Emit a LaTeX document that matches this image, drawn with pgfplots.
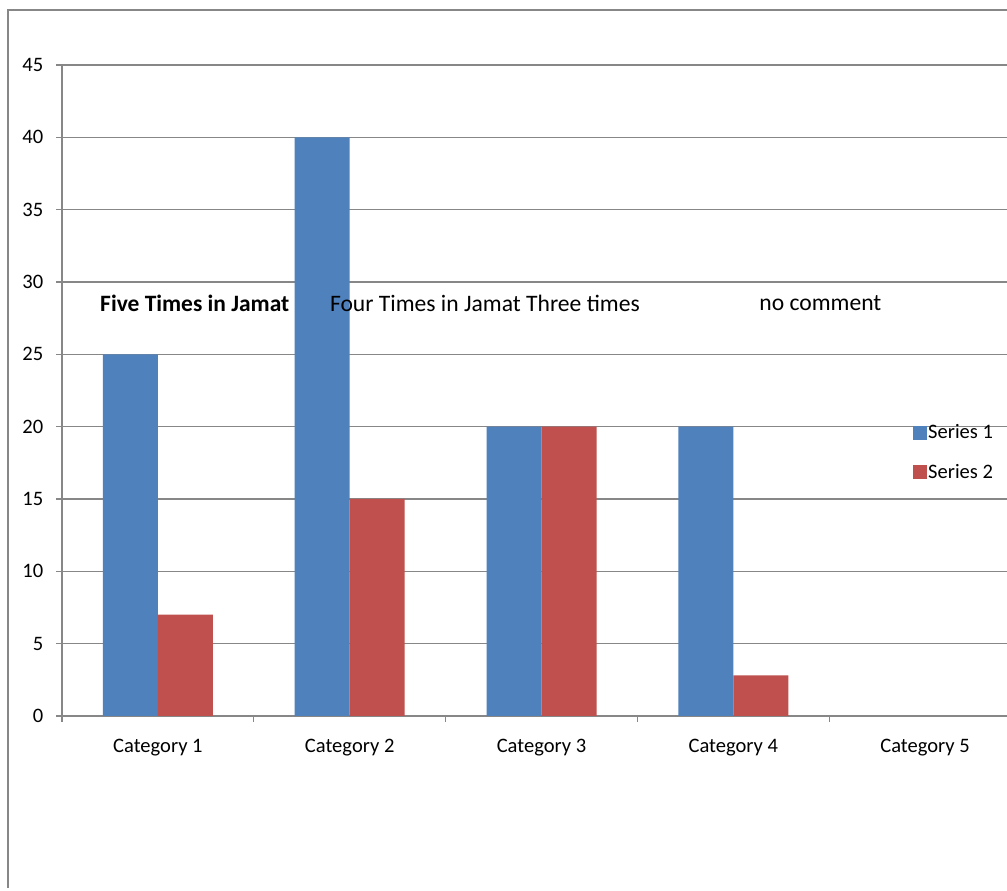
\documentclass[border=0pt]{standalone}
\usepackage{pgfplots}
\pgfplotsset{compat=1.18}
\usepackage{fontspec}
\setmainfont{Carlito}
\definecolor{sblue}{HTML}{4F81BD}
\definecolor{sred}{HTML}{C0504D}
\definecolor{gridgray}{HTML}{878787}
\begin{document}
\begin{tikzpicture}[x=0.75pt,y=0.75pt]
\useasboundingbox (0,0) rectangle (1007,891);
\fill[white] (0,0) rectangle (1007,891);
\draw[gridgray, line width=0.9pt] (8,3) -- (8,881) -- (1010,881);
\begin{axis}[
  at={(46.5pt,131.25pt)}, anchor=south west,
  scale only axis, width=719.25pt, height=488.25pt,
  ybar=0pt, bar width=41.25pt,
  xmin=-0.5, xmax=4.5, ymin=0, ymax=45,
  xtick={0,1,2,3,4},
  xticklabels={Category 1,Category 2,Category 3,Category 4,Category 5},
  minor xtick={-0.5,0.5,1.5,2.5,3.5,4.5},
  ytick={0,5,...,45},
  axis x line*=bottom, axis y line*=left,
  axis line style={gridgray, line width=0.9pt, -},
  ymajorgrids, major grid style={gridgray, line width=0.9pt},
  major tick length=4.5pt, minor tick length=4.5pt,
  tick align=outside,
  x tick style={draw=none}, minor x tick style={draw=gridgray, line width=0.9pt},
  y tick style={gridgray, line width=0.9pt},
  tick label style={font=\fontsize{15.4}{18}\selectfont, text=black},
  /pgf/number format/assume math mode=true,
  xticklabel style={yshift=-9pt},
  yticklabel style={xshift=-6pt},
  legend style={at={(0.887,0.405)}, anchor=west, draw=none, fill=none,
    font=\fontsize{15.4}{18}\selectfont, row sep=15.5pt, inner sep=0pt,
    nodes={inner sep=1pt}},
  legend cell align=left,
  legend image code/.code={\fill[#1] (0pt,-5.2pt) rectangle (10.5pt,5.2pt);},
]
\addplot[fill=sblue, draw=none] coordinates {(0,25) (1,40) (2,20) (3,20)};
\addplot[fill=sred, draw=none] coordinates {(0,7) (1,15) (2,20) (3,2.8)};
\legend{Series 1, Series 2}
\node[anchor=west, inner sep=0pt, font=\fontsize{17.6}{20}\selectfont\bfseries] at (axis cs:-0.302,28.55) {Five Times in Jamat};
\node[anchor=west, inner sep=0pt, font=\fontsize{17.7}{20}\selectfont] at (axis cs:0.896,28.55) {Four Times in Jamat Three times};
\node[anchor=west, inner sep=0pt, font=\fontsize{17.7}{20}\selectfont] at (axis cs:3.135,28.55) {no comment};
\end{axis}
\end{tikzpicture}
\end{document}
